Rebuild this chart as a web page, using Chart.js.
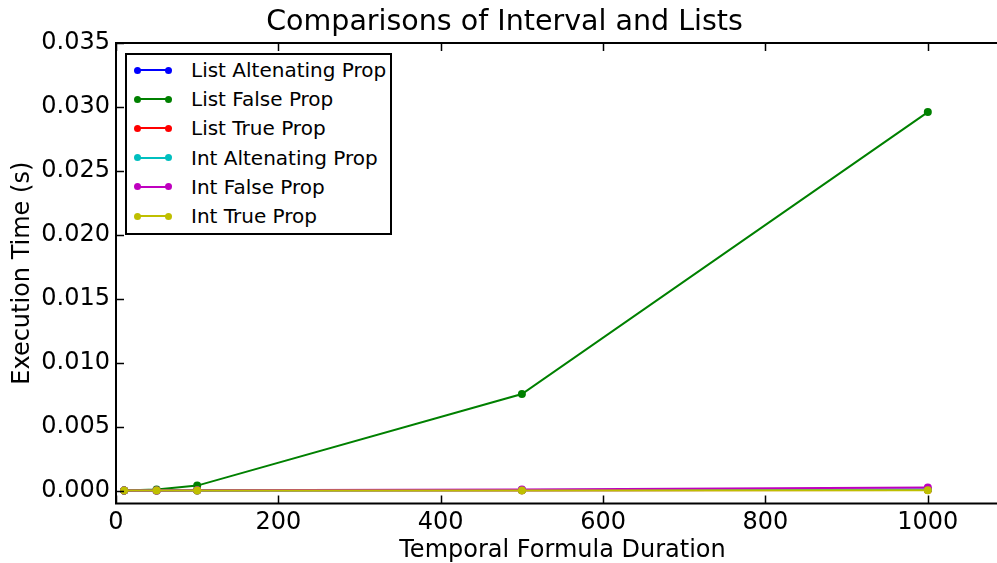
<!DOCTYPE html>
<html>
<head>
<meta charset="utf-8">
<script src="https://cdn.jsdelivr.net/npm/chart.js@4"></script>
<style>
  html, body { margin: 0; padding: 0; background: #fff; overflow: hidden; }
  #wrap { position: relative; width: 997px; height: 563px; overflow: hidden; }
  #c { display: block; }
  #legend {
    position: absolute; left: 125px; top: 53px; width: 263px; height: 178px;
    border: 2px solid #000; background: #fff; box-sizing: content-box;
    font-family: "DejaVu Sans", sans-serif; font-size: 20px; color: #000;
  }
  .item { position: absolute; left: 0; height: 20px; }
  .item .line { position: absolute; left: 10px; width: 31px; height: 2px; top: 9px; }
  .item .dot { position: absolute; width: 7px; height: 7px; border-radius: 50%; top: 6.5px; }
  .item .txt { position: absolute; left: 64px; top: 0; white-space: nowrap; line-height: 20px; }
</style>
</head>
<body>
<div id="wrap">
  <canvas id="c" width="1030" height="563"></canvas>
  <div id="legend"></div>
</div>
<script>
const durations = [10, 50, 100, 500, 1000];

const listAltenating = [0.00001, 0.00002, 0.00003, 0.00004, 0.00008];
const listFalse = [0.00001, 0.0001, 0.0004, 0.00756, 0.0296];
const listTrue = [0.00001, 0.00001, 0.00002, 0.00003, 0.00005];
const intAltenating = [0.00001, 0.00002, 0.00002, 0.00005, 0.0001];
const intFalse = [0.00001, 0.00002, 0.00003, 0.0001, 0.00025];
const intTrue = [0.00001, 0.00001, 0.00001, 0.00002, 0.00003];

const seriesNames = ["List Altenating Prop", "List False Prop", "List True Prop",
                     "Int Altenating Prop", "Int False Prop", "Int True Prop"];
const seriesValues = [listAltenating, listFalse, listTrue, intAltenating, intFalse, intTrue];
const seriesColors = ["#0000ff", "#008000", "#ff0000", "#00bfbf", "#bf00bf", "#bfbf00"];

const xTicks = [0, 200, 400, 600, 800, 1000];
const yTicks = [0, 0.005, 0.010, 0.015, 0.020, 0.025, 0.030, 0.035];

const FONT = "'DejaVu Sans', sans-serif";

const datasets = seriesValues.map((vals, i) => ({
  label: seriesNames[i],
  data: vals.map((v, j) => ({ x: durations[j], y: v })),
  borderColor: seriesColors[i],
  backgroundColor: seriesColors[i],
  borderWidth: 2,
  pointRadius: 4,
  pointBorderWidth: 0,
  pointHoverRadius: 4,
  tension: 0,
  // matplotlib draws later series on top
  order: seriesValues.length - i,
}));

// inward ticks on all four sides + box frame
const frame = {
  id: "frame",
  afterDraw(chart) {
    const { ctx, chartArea: a, scales } = chart;
    const len = 8;
    ctx.save();
    ctx.strokeStyle = "#000";
    ctx.lineWidth = 1.5;
    xTicks.forEach((t) => {
      const px = Math.round(scales.x.getPixelForValue(t)) + 0.5;
      ctx.beginPath();
      ctx.moveTo(px, a.bottom); ctx.lineTo(px, a.bottom - len);
      ctx.moveTo(px, a.top); ctx.lineTo(px, a.top + len);
      ctx.stroke();
    });
    yTicks.forEach((t) => {
      const py = Math.round(scales.y.getPixelForValue(t)) + 0.5;
      ctx.beginPath();
      ctx.moveTo(a.left, py); ctx.lineTo(a.left + len, py);
      ctx.moveTo(a.right, py); ctx.lineTo(a.right - len, py);
      ctx.stroke();
    });
    ctx.lineWidth = 2;
    ctx.strokeRect(a.left, a.top, a.right - a.left, a.bottom - a.top);
    ctx.restore();
  },
};

new Chart(document.getElementById("c"), {
  type: "line",
  data: { datasets },
  plugins: [frame],
  options: {
    responsive: false,
    animation: false,
    // plot area runs past the right edge of the window, as in the original
    layout: { padding: { left: 0, right: 21, top: 0, bottom: 0 } },
    plugins: {
      legend: { display: false },
      tooltip: { enabled: false },
      title: {
        display: true,
        text: "Comparisons of Interval and Lists",
        color: "#000",
        font: { family: FONT, size: 28.5, weight: "normal" },
        padding: { top: 5, bottom: 3.8 },
      },
    },
    scales: {
      x: {
        type: "linear",
        min: 0,
        max: 1100,
        afterFit: (s) => { s.height = 59.5; },
        afterBuildTicks: (s) => { s.ticks = xTicks.map((v) => ({ value: v })); },
        grid: { display: false, drawTicks: false },
        border: { display: false },
        ticks: {
          color: "#000",
          padding: 5,
          font: { family: FONT, size: 24 },
          callback: (v) => String(v),
        },
        title: {
          display: true,
          text: "Temporal Formula Duration",
          color: "#000",
          font: { family: FONT, size: 24 },
          padding: { top: 0, bottom: -2 },
        },
      },
      y: {
        type: "linear",
        min: -0.001,
        max: 0.035,
        afterFit: (s) => { s.width = 116; },
        afterBuildTicks: (s) => { s.ticks = yTicks.map((v) => ({ value: v })); },
        grid: { display: false, drawTicks: false },
        border: { display: false },
        ticks: {
          color: "#000",
          padding: 6,
          font: { family: FONT, size: 24 },
          callback: (v) => Number(v).toFixed(3),
        },
        title: {
          display: true,
          text: "Execution Time (s)",
          color: "#000",
          font: { family: FONT, size: 24 },
          padding: { top: 8, bottom: 8 },
        },
      },
    },
  },
});

// legend box, built from the series arrays
const legend = document.getElementById("legend");
seriesNames.forEach((name, i) => {
  const item = document.createElement("div");
  item.className = "item";
  item.style.top = (5 + i * 29.2) + "px";
  item.innerHTML =
    '<span class="line" style="background:' + seriesColors[i] + '"></span>' +
    '<span class="dot" style="left:6.5px;background:' + seriesColors[i] + '"></span>' +
    '<span class="dot" style="left:37.5px;background:' + seriesColors[i] + '"></span>' +
    '<span class="txt">' + name + "</span>";
  legend.appendChild(item);
});
</script>
</body>
</html>
